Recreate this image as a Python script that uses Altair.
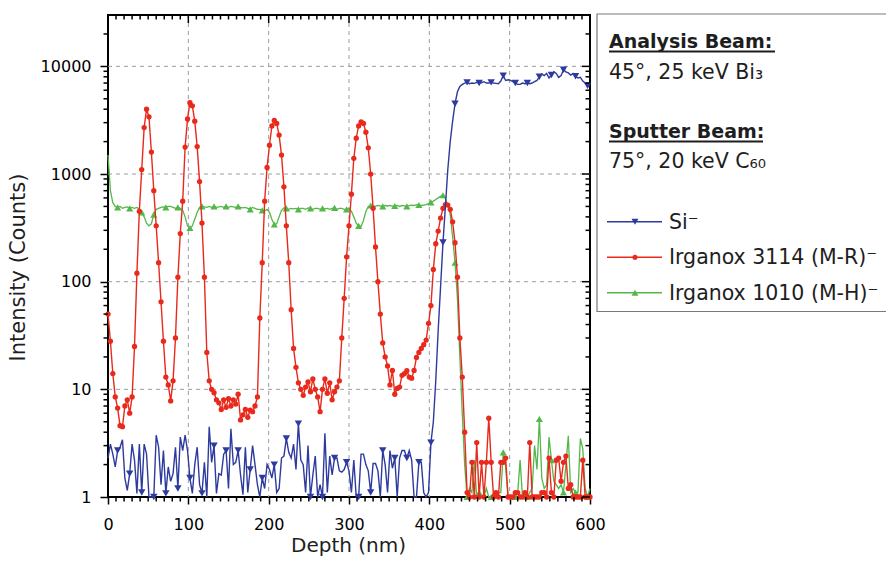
import altair as alt
import pandas as pd

# ---------------- data ----------------
depth = [
    0, 3, 6, 9, 12, 15, 18, 21, 24, 27,
    30, 33, 36, 39, 42, 45, 48, 51, 54, 57,
    60, 63, 66, 69, 72, 75, 78, 81, 84, 87,
    90, 93, 96, 99, 102, 105, 108, 111, 114, 117,
    120, 123, 126, 129, 132, 135, 138, 141, 144, 147,
    150, 153, 156, 159, 162, 165, 168, 171, 174, 177,
    180, 183, 186, 189, 192, 195, 198, 201, 204, 207,
    210, 213, 216, 219, 222, 225, 228, 231, 234, 237,
    240, 243, 246, 249, 252, 255, 258, 261, 264, 267,
    270, 273, 276, 279, 282, 285, 288, 291, 294, 297,
    300, 303, 306, 309, 312, 315, 318, 321, 324, 327,
    330, 333, 336, 339, 342, 345, 348, 351, 354, 357,
    360, 363, 366, 369, 372, 375, 378, 381, 384, 387,
    390, 393, 396, 399, 402, 405, 408, 411, 414, 417,
    420, 423, 426, 429, 432, 435, 438, 441, 444, 447,
    450, 453, 456, 459, 462, 465, 468, 471, 474, 477,
    480, 483, 486, 489, 492, 495, 498, 501, 504, 507,
    510, 513, 516, 519, 522, 525, 528, 531, 534, 537,
    540, 543, 546, 549, 552, 555, 558, 561, 564, 567,
    570, 573, 576, 579, 582, 585, 588, 591, 594, 597,
    600,
]

si = [
    2.3, 3.1, 2.5, 1.9, 2.7, 2.9, 3.4, 1.5, 1.15, 1.65,
    3.1, 2.2, 1.08, 3.1, 1.1, 3.1, 2.5, 1.0, 1.0, 1.0,
    3.75, 2.9, 1.3, 2.7, 1.08, 1.9, 1.4, 1.65, 2.9, 1.2,
    3.6, 2.7, 3.75, 2.7, 1.5, 1.08, 2.0, 2.9, 1.3, 1.08,
    2.1, 1.0, 4.5, 2.1, 3.0, 1.08, 1.65, 1.6, 2.5, 2.7,
    1.2, 4.3, 2.0, 2.1, 2.7, 1.6, 1.05, 2.9, 1.1, 1.8,
    3.0, 2.0, 1.3, 1.0, 1.5, 1.2, 2.0, 1.8, 1.5, 2.0,
    1.1, 1.2, 2.3, 2.4, 3.5, 2.6, 2.3, 3.1, 1.8, 4.8,
    2.2, 2.0, 1.1, 3.0, 1.0, 1.6, 2.4, 1.0, 1.3, 1.0,
    3.9, 1.1, 2.4, 1.6, 2.3, 2.3, 1.75, 1.7, 1.8, 2.1,
    1.75, 1.1, 2.2, 1.0, 1.0, 2.5, 2.5, 2.0, 1.75, 1.1,
    2.05, 2.05, 1.75, 1.0, 2.7, 2.0, 1.1, 2.7, 1.85, 2.3,
    1.0, 2.3, 2.7, 2.7, 2.3, 2.7, 2.2, 1.0, 1.0, 2.1,
    2.1, 1.1, 1.0, 1.1, 3.2, 5.0, 12, 35, 90, 231,
    500, 1100, 2000, 3100, 4500, 5800, 6500, 6800, 7000, 7100,
    6900, 7000, 6950, 7100, 7000, 7050, 7200, 7000, 7000, 7100,
    7000, 6950, 6900, 7300, 8200, 7400, 7500, 7400, 7200, 7000,
    6800, 6800, 7000, 6900, 7000, 6900, 7000, 7200, 7400, 8000,
    8500, 8200, 8600, 7800, 8300, 8900, 8600, 7900, 8200, 9300,
    8900, 8700, 8300, 8600, 8100, 7800, 7900, 7300, 7000, 6600,
    6800,
]

irganox3114 = [
    50, 28, 14, 8.5, 6.7, 4.6, 4.5, 7, 8, 6,
    8.5, 25, 120, 450, 1100, 2700, 4000, 3400, 1600, 700,
    330, 150, 65, 28, 13, 11, 7.8, 12, 30, 110,
    280, 560, 1780, 3250, 4600, 4300, 3100, 1800, 850, 350,
    110, 22, 12, 10, 9.3, 8.0, 7.5, 6.5, 8, 6.8,
    8.2, 7, 8, 7.3, 9, 5.2, 5.8, 6.5, 5.5, 6.4,
    6.2, 7, 8.5, 46, 150, 560, 1150, 1850, 2800, 3150,
    2950, 2300, 1500, 760, 330, 150, 55, 24, 16, 11.5,
    10, 8.8, 10.5, 11.7, 9.5, 12.5, 10, 8.5, 6.2, 10,
    12.5, 9.2, 11.5, 8, 9.5, 10.5, 12, 30, 70, 170,
    330, 650, 1400, 2150, 2800, 3050, 2950, 2450, 1750, 1000,
    480, 210, 100, 50, 27, 20, 16.5, 11, 15, 9,
    10.2, 10.5, 13.5, 14, 14.9, 13, 12.7, 15, 19.8, 22,
    24, 26, 28.7, 41, 60, 130, 225, 295, 390, 480,
    520, 515, 470, 360, 230, 110, 30, 13, 4, 1.1,
    1, 2.1, 1, 3.2, 1, 2.1, 1, 2.1, 5.4, 2.1,
    1, 1.1, 1, 2.1, 2.1, 2.3, 1, 1, 1, 1.1,
    1.1, 1, 1, 1.1, 1, 3.2, 1, 1, 1, 1,
    1.1, 1.1, 1, 2.3, 1.1, 1, 2.2, 2.3, 1.4, 2.1,
    2.4, 1.2, 1.3, 1, 1, 1, 1, 2.2, 1, 1,
    1,
]

irganox1010 = [
    1500, 700, 540, 500, 490, 500, 480, 490, 495, 480,
    490, 480, 490, 470, 440, 400, 350, 330, 345, 420,
    470, 480, 490, 495, 490, 500, 500, 490, 480, 490,
    480, 460, 400, 330, 315, 330, 380, 440, 490, 500,
    495, 490, 500, 490, 500, 490, 495, 500, 490, 500,
    490, 500, 495, 490, 500, 490, 485, 490, 480, 470,
    490, 480, 470, 470, 460, 455, 470, 440, 380, 340,
    345, 400, 460, 485, 480, 470, 480, 475, 480, 470,
    480, 480, 470, 485, 480, 470, 480, 480, 470, 480,
    475, 480, 470, 480, 485, 470, 480, 480, 470, 470,
    480, 450, 400, 350, 330, 325, 370, 450, 500, 510,
    505, 500, 510, 505, 500, 510, 505, 510, 500, 505,
    510, 500, 510, 505, 500, 510, 515, 510, 520, 515,
    510, 515, 520, 530, 545, 560, 580, 600, 620, 635,
    590, 520, 420, 260, 150, 70, 20, 6, 2.0, 1,
    1.2, 1.1, 2.2, 1, 1.1, 1, 1, 1.2, 1, 1,
    1.1, 1, 1.1, 1.1, 2.6, 1.9, 1, 1, 1, 1,
    1.1, 2.2, 1, 1, 1, 1.1, 1.2, 3.0, 1.8, 5.3,
    1.5, 1.2, 1.3, 3.6, 2.2, 1.4, 1.3, 1.2, 1.3, 1.1,
    2.0, 3.7, 1.1, 1.2, 1.1, 1.1, 3.5, 2.8, 1.2, 1.0,
    1.2,
]

series_names = ["Si\u207b", "Irganox 3114 (M-R)\u207b", "Irganox 1010 (M-H)\u207b"]
beam_lines = ["Analysis Beam:", "45\u00b0, 25 keV Bi\u2083", "Sputter Beam:", "75\u00b0, 20 keV C\u2086\u2080"]
x_major = [0, 100, 200, 300, 400, 500, 600]
x_grid = [100, 200, 300, 400, 500]
x_minor = [10, 20, 30, 40, 50, 60, 70, 80, 90,
           110, 120, 130, 140, 150, 160, 170, 180, 190,
           210, 220, 230, 240, 250, 260, 270, 280, 290,
           310, 320, 330, 340, 350, 360, 370, 380, 390,
           410, 420, 430, 440, 450, 460, 470, 480, 490,
           510, 520, 530, 540, 550, 560, 570, 580, 590]
y_major = [1, 10, 100, 1000, 10000]
y_grid = [10, 100, 1000, 10000]
y_minor = [2, 3, 4, 5, 6, 7, 8, 9, 20, 30, 40, 50, 60, 70, 80, 90,
           200, 300, 400, 500, 600, 700, 800, 900,
           2000, 3000, 4000, 5000, 6000, 7000, 8000, 9000, 20000]

df = pd.DataFrame({"depth": depth, "si": si, "m3114": irganox3114, "m1010": irganox1010})
df["marker"] = [i % 5 == 4 for i in range(len(df))]

# ---------------- styling ----------------
FONT = "DejaVu Sans"
BLUE = "#2d3a9e"
RED = "#e8291c"
GREEN = "#53b74a"
TXT = "#1e1e1e"
GRID = "#9c9c9c"
W = 482
H = 482

xs = alt.Scale(domain=[0, 600], nice=False, zero=False)
ys = alt.Scale(type="log", domain=[1, 30000], nice=False)

ax_x_major = alt.Axis(orient="bottom", values=x_major, format="d", tickSize=7,
                      tickColor="black", tickWidth=1.5, domain=False, grid=False,
                      labelFont=FONT, labelFontSize=16, labelColor="black", labelPadding=12,
                      labelFlush=False, labelOverlap=False,
                      title="Depth (nm)", titleFont=FONT, titleFontSize=20,
                      titleFontWeight="normal", titleColor=TXT, titleX=240, titleY=54,
                      titleAlign="center", titleBaseline="alphabetic")
ax_y_major = alt.Axis(orient="left", values=y_major, format="d", tickSize=8,
                      tickColor="black", tickWidth=1.5, domain=False, grid=False,
                      labelFont=FONT, labelFontSize=16, labelColor="black", labelPadding=9,
                      labelFlush=False, labelOverlap=False,
                      title="Intensity (Counts)", titleFont=FONT, titleFontSize=21,
                      titleFontWeight="normal", titleColor=TXT, titleX=-80, titleY=252,
                      titleAngle=270, titleAlign="center", titleBaseline="bottom")

base = alt.Chart(df)


def enc(field, xaxis=None, yaxis=None):
    return dict(x=alt.X("depth:Q", scale=xs, axis=xaxis),
                y=alt.Y(field + ":Q", scale=ys, axis=yaxis))


green_line = base.mark_line(color=GREEN, strokeWidth=1.3).encode(**enc("m1010"))
green_pts = base.mark_point(shape="triangle-up", filled=True, size=50, color=GREEN, opacity=1).transform_filter(
    "datum.marker").encode(**enc("m1010"))
red_line = base.mark_line(color=RED, strokeWidth=1.4).encode(**enc("m3114", ax_x_major, ax_y_major))
red_pts = base.mark_circle(size=28, color=RED, opacity=1).encode(**enc("m3114"))
blue_line = base.mark_line(color=BLUE, strokeWidth=1.4).encode(**enc("si"))
blue_pts = base.mark_point(shape="triangle-down", filled=True, size=55, color=BLUE, opacity=1).transform_filter(
    "datum.marker").encode(**enc("si"))

# ---------------- grid, minor and mirrored ticks (placed through the scales) ----------------
xgrid_df = pd.DataFrame({"tx": x_grid})
ygrid_df = pd.DataFrame({"ty": y_grid})
xmaj_df = pd.DataFrame({"tx": x_major})
xmin_df = pd.DataFrame({"tx": x_minor})
ymaj_df = pd.DataFrame({"ty": y_major})
ymin_df = pd.DataFrame({"ty": y_minor})

grid_x = alt.Chart(xgrid_df).mark_rule(color=GRID, strokeWidth=1, strokeDash=[4, 4]).encode(
    x=alt.X("tx:Q", scale=xs, axis=None), y=alt.value(0), y2=alt.value(H))
grid_y = alt.Chart(ygrid_df).mark_rule(color=GRID, strokeWidth=1, strokeDash=[4, 4]).encode(
    y=alt.Y("ty:Q", scale=ys, axis=None), x=alt.value(0), x2=alt.value(W))


def xticks(d, y1, y2):
    return alt.Chart(d).mark_rule(color="black", strokeWidth=1.5).encode(
        x=alt.X("tx:Q", scale=xs, axis=None), y=alt.value(y1), y2=alt.value(y2))


def yticks(d, x1, x2):
    return alt.Chart(d).mark_rule(color="black", strokeWidth=1.5).encode(
        y=alt.Y("ty:Q", scale=ys, axis=None), x=alt.value(x1), x2=alt.value(x2))


tick_layers = [
    xticks(xmin_df, H, H + 4.5),      # bottom minor (outward)
    xticks(xmaj_df, 0, 8),            # top major (inward)
    xticks(xmin_df, 0, 4.5),          # top minor (inward)
    yticks(ymin_df, 0, -4.5),         # left minor (outward)
    yticks(ymaj_df, W, W - 8),        # right major (inward)
    yticks(ymin_df, W, W - 4.5),      # right minor (inward)
]

# ---------------- legend / annotation box ----------------
one = alt.Chart(pd.DataFrame({"k": [0]}))
LX = 501

box = one.mark_rect(fill="white", stroke="#7a7a7a", strokeWidth=1.2).encode(
    x=alt.value(489), x2=alt.value(779), y=alt.value(-1), y2=alt.value(296.5))


def txt(s, x, y, bold=False, baseline="alphabetic", size=20.5):
    return one.mark_text(text=s, align="left", baseline=baseline, font=FONT, fontSize=size,
                         fontWeight="bold" if bold else "normal", color=TXT).encode(
        x=alt.value(x), y=alt.value(y))


def uline(x1, x2, y):
    return one.mark_rule(color=TXT, strokeWidth=1.8).encode(x=alt.value(x1), x2=alt.value(x2), y=alt.value(y))


annot = [
    box,
    txt(beam_lines[0], LX, 33.3, bold=True, size=19), uline(LX, 667, 36.5),
    txt(beam_lines[1], LX, 64.3),
    txt(beam_lines[2], LX, 123, bold=True, size=19), uline(LX, 655, 126.5),
    txt(beam_lines[3], LX, 153.3),
]

leg_rows = [(series_names[0], BLUE, "triangle-down", 206.7),
            (series_names[1], RED, "circle", 242.3),
            (series_names[2], GREEN, "triangle-up", 277.7)]
for name, col, shp, yy in leg_rows:
    annot.append(one.mark_rule(color=col, strokeWidth=1.4).encode(
        x=alt.value(499), x2=alt.value(554), y=alt.value(yy)))
    annot.append(one.mark_point(shape=shp, filled=True, size=26 if shp == "circle" else 48,
                                color=col, opacity=1).encode(x=alt.value(527), y=alt.value(yy)))
    annot.append(txt(name, 561, yy + 1, baseline="middle"))

chart = alt.layer(
    grid_x, grid_y,
    green_line, green_pts, red_line, red_pts, blue_line, blue_pts,
    *tick_layers, *annot
).resolve_axis(
    x="independent", y="independent"
).properties(
    width=W, height=H,
    padding={"left": 108, "top": 15, "right": 296, "bottom": 66},
    autosize=alt.AutoSizeParams(type="none"),
    background="white",
).configure_view(
    stroke="black", strokeWidth=2
)

chart.save("out.html", embed_options={"renderer": "svg", "actions": False})
